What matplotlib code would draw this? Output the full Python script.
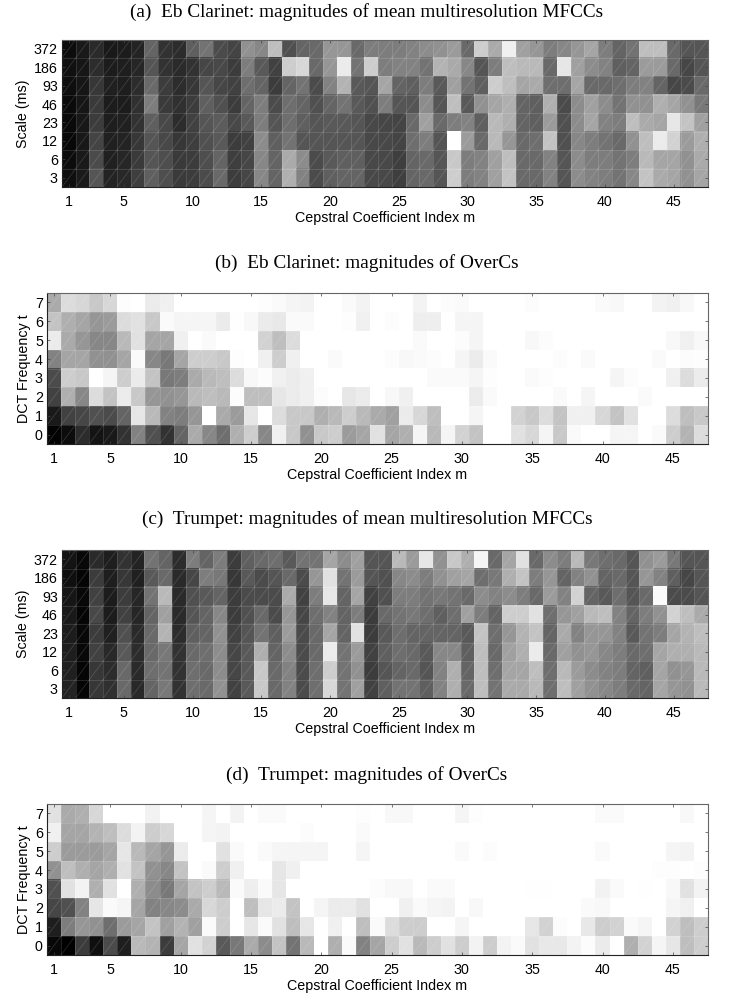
import numpy as np
import matplotlib
matplotlib.use("Agg")
import matplotlib.pyplot as plt

plt.rcParams['font.family'] = ['Liberation Sans', 'DejaVu Sans']

W, H = 733, 998

# grey levels per coefficient m = 1..47, each list goes from the top row to the bottom row
clarinet_mfcc = [
    [12,16,14,10,10,8,12,15], [25,22,22,22,24,24,26,26], [42,45,55,58,60,68,75,85], [25,28,32,28,30,32,32,35],
    [28,30,30,28,32,35,38,40], [35,38,45,48,50,55,58,62], [100,85,105,125,95,85,85,95], [50,50,60,58,72,72,78,78],
    [45,42,45,48,45,55,58,58], [95,50,55,60,65,62,60,60], [115,70,85,95,85,80,78,75], [75,72,70,80,92,90,100,105],
    [68,60,65,60,72,60,62,60], [145,125,110,100,90,65,70,70], [135,90,100,125,125,140,135,135], [190,65,60,75,85,95,100,100],
    [80,205,100,110,110,115,170,175], [100,215,115,100,95,85,140,130], [105,105,75,80,85,85,75,75], [150,150,130,100,90,85,90,95],
    [150,235,180,115,90,85,95,100], [105,115,90,90,85,85,95,100], [125,205,85,80,72,72,72,72], [125,125,165,125,70,72,72,72],
    [125,130,100,85,68,68,62,62], [130,130,95,85,105,110,100,100], [140,115,125,140,160,125,105,105], [145,180,90,85,105,85,85,85],
    [155,170,160,190,125,255,200,205], [105,135,115,90,130,155,125,125], [205,85,95,145,95,105,130,130], [170,125,205,165,185,185,160,160],
    [240,190,190,175,175,150,190,195], [160,185,165,100,100,105,105,105], [150,185,170,95,95,110,105,105], [125,105,110,175,155,195,130,130],
    [135,230,110,75,80,80,85,85], [150,160,165,140,140,135,140,140], [165,140,105,160,165,125,125,130], [125,130,105,140,130,115,125,125],
    [100,95,110,115,125,105,115,115], [115,100,125,145,190,145,125,135], [190,155,130,145,170,190,185,195], [190,155,100,175,165,235,165,170],
    [105,105,70,165,230,210,165,165], [85,70,75,145,195,155,145,145], [85,85,105,120,160,175,170,165],
]

clarinet_overc = [
    [170,195,235,130,75,65,25,3], [220,175,170,165,205,175,65,12], [215,165,150,165,200,135,70,45], [200,150,135,145,255,220,80,20],
    [215,155,135,145,245,195,75,25], [253,220,185,165,205,235,100,50], [255,225,225,250,235,200,230,130], [235,200,165,135,195,150,185,80],
    [240,250,165,120,120,145,130,50], [255,245,240,165,125,150,125,100], [255,245,255,205,170,185,150,170], [255,245,250,205,185,190,255,135],
    [255,235,255,200,190,185,170,110], [255,254,255,253,220,252,155,175], [255,248,255,255,248,190,230,205], [253,235,210,240,252,190,255,135],
    [250,232,190,205,240,230,220,240], [245,250,220,240,235,235,200,200], [243,250,255,255,240,240,200,145], [255,255,255,255,255,252,175,200],
    [255,255,255,250,255,255,185,205], [250,253,255,255,255,230,205,155], [243,240,255,255,255,235,185,165], [255,255,255,255,255,255,170,225],
    [255,252,255,252,255,248,160,165], [255,255,255,248,255,240,235,175], [243,238,250,250,255,255,215,245], [255,238,255,252,250,255,190,185],
    [252,255,255,255,250,255,255,245], [250,245,252,245,250,255,255,210], [255,245,245,235,245,235,245,195], [255,255,255,250,253,250,255,255],
    [255,255,255,255,255,255,255,255], [255,255,255,255,255,255,210,225], [252,255,248,255,250,255,200,215], [255,255,252,255,253,255,220,245],
    [255,255,255,252,255,250,195,200], [255,255,255,255,255,255,240,250], [255,255,255,250,255,245,240,255], [250,255,255,255,255,255,215,255],
    [248,255,255,255,245,255,195,245], [255,255,255,255,252,255,225,245], [255,255,255,255,255,250,255,255], [243,255,255,250,255,255,255,250],
    [240,255,248,255,240,255,220,205], [248,255,240,252,220,255,190,180], [255,255,248,253,235,255,200,220],
]

trumpet_mfcc = [
    [20,15,22,25,28,30,32,35], [8,5,8,5,8,8,5,5], [42,60,65,72,60,65,55,55], [30,30,28,28,32,40,45,48],
    [50,55,60,65,80,90,105,105], [35,32,38,38,42,45,42,40], [115,90,115,100,105,105,110,100], [100,105,185,160,180,120,115,120],
    [45,42,42,42,45,50,50,50], [125,70,80,85,95,105,110,110], [100,125,90,100,100,110,105,105], [125,120,100,135,145,140,140,145],
    [60,55,60,60,65,70,70,65], [95,90,75,80,85,90,90,90], [105,75,75,105,115,175,200,200], [110,85,75,75,95,100,105,105],
    [90,105,170,150,155,140,130,130], [115,75,65,70,75,75,75,75], [115,150,125,110,105,105,110,110], [165,225,230,130,165,235,205,215],
    [140,115,100,100,100,115,115,115], [160,155,165,125,225,155,145,160], [85,85,65,60,60,65,60,65], [85,80,80,105,90,95,85,95],
    [185,135,125,115,110,110,100,115], [155,140,125,120,100,105,105,115], [230,125,115,110,100,90,85,95], [145,145,120,95,100,135,130,130],
    [200,160,115,110,100,135,175,175], [175,165,105,160,90,95,100,105], [245,110,140,125,195,190,190,190], [105,120,130,100,110,105,110,115],
    [165,175,140,205,150,160,165,170], [225,195,125,205,180,175,165,170], [105,125,105,225,195,235,190,185], [140,150,155,110,100,105,110,110],
    [125,100,130,150,170,160,185,190], [185,130,210,160,130,145,155,160], [120,145,100,185,150,150,140,145], [110,100,90,190,150,135,130,135],
    [105,105,110,130,130,125,125,125], [85,85,85,100,90,105,100,105], [145,150,105,125,115,110,95,100], [155,130,250,145,125,165,165,165],
    [120,95,75,210,165,175,145,150], [85,70,75,190,180,175,150,145], [85,85,85,170,190,185,185,185],
]

trumpet_overc = [
    [225,240,205,145,80,70,30,8], [170,165,155,190,225,80,125,0], [175,165,155,175,243,130,150,60], [215,180,155,165,175,230,145,15],
    [255,190,165,175,225,250,110,75], [255,220,230,225,255,245,155,30], [255,243,185,195,175,165,165,185], [242,205,165,145,140,130,195,180],
    [255,215,150,135,120,135,160,60], [255,255,235,195,165,140,180,165], [255,255,255,255,195,170,160,225], [245,245,255,250,205,215,250,210],
    [255,243,225,205,185,205,205,90], [243,255,250,240,250,255,255,120], [255,255,255,255,238,190,230,170], [250,255,250,255,250,230,250,140],
    [250,255,245,230,230,235,225,195], [255,255,245,240,255,195,190,115], [255,252,245,255,255,255,230,185], [255,255,245,255,255,245,255,255],
    [255,255,255,255,255,235,240,175], [255,255,255,255,255,235,255,250], [253,250,245,255,255,225,190,130], [255,255,255,255,252,255,250,165],
    [248,255,255,255,248,255,220,205], [248,255,255,255,248,240,205,225], [255,255,255,255,255,250,205,185], [255,255,255,255,250,245,255,205],
    [255,255,255,255,250,243,255,225], [245,255,250,255,255,255,245,205], [253,255,255,255,255,248,255,243], [255,255,252,255,255,255,255,205],
    [255,255,255,255,255,255,255,243], [255,255,255,255,255,255,255,250], [255,255,255,255,254,255,230,225], [255,255,255,255,254,255,210,232],
    [255,255,255,255,255,255,252,232], [255,255,255,255,255,255,255,243], [255,255,255,255,255,250,232,252], [250,255,250,255,242,248,205,235],
    [250,255,255,255,250,255,210,255], [255,255,255,255,255,255,250,175], [255,255,255,255,254,255,245,210], [255,255,255,253,255,255,255,245],
    [255,255,245,253,248,245,210,230], [248,255,243,255,225,240,190,190], [255,255,255,253,243,255,205,205],
]

x_ticks = [1, 5, 10, 15, 20, 25, 30, 35, 40, 45]
scale_labels = ['372', '186', '93', '46', '23', '12', '6', '3']
dct_labels = ['7', '6', '5', '4', '3', '2', '1', '0']

titles = [
    '(a)  Eb Clarinet: magnitudes of mean multiresolution MFCCs',
    '(b)  Eb Clarinet: magnitudes of OverCs',
    '(c)  Trumpet: magnitudes of mean multiresolution MFCCs',
    '(d)  Trumpet: magnitudes of OverCs',
]
panels = [clarinet_mfcc, clarinet_overc, trumpet_mfcc, trumpet_overc]
row_labels = [scale_labels, dct_labels, scale_labels, dct_labels]
y_labels = ['Scale (ms)', 'DCT Frequency t', 'Scale (ms)', 'DCT Frequency t']
# left, top, right, bottom in pixels
boxes = [(62, 39.5, 708, 187), (47, 293, 708, 444), (62, 550, 708, 698), (47, 804, 708, 955)]
title_y = [12, 263, 519, 775]

fig = plt.figure(figsize=(W / 100, H / 100), dpi=100)

for values, labels, ylab, box, title, ty in zip(panels, row_labels, y_labels, boxes, titles, title_y):
    l, t, r, b = box
    ax = fig.add_axes([l / W, 1 - b / H, (r - l) / W, (b - t) / H])
    grid = np.array(values).T
    ax.imshow(grid, cmap='gray', vmin=0, vmax=255, aspect='auto', interpolation='nearest',
              extent=(0.5, 47.5, 7.5, -0.5))

    # light seams of the mesh, edges and one diagonal per cell
    seam = dict(color='white', alpha=0.15, lw=0.6)
    for i in range(48):
        ax.plot([i + 0.5, i + 0.5], [-0.5, 7.5], **seam)
    for j in range(9):
        ax.plot([0.5, 47.5], [j - 0.5, j - 0.5], **seam)
    for i in range(47):
        for j in range(8):
            ax.plot([i + 0.5, i + 1.5], [j + 0.5, j - 0.5], **seam)

    ax.set_xlim(0.5, 47.5)
    ax.set_ylim(7.5, -0.5)
    ax.set_xticks(x_ticks)
    ax.set_yticks(range(8))
    ax.set_yticklabels(labels)
    ax.tick_params(direction='in', length=2, width=0.5, labelsize=10.3, color='#444444',
                   top=True, right=True)
    ax.tick_params(axis='x', pad=6)
    ax.tick_params(axis='y', pad=3)
    for name, s in ax.spines.items():
        s.set_linewidth(0.8)
        s.set_color('#222222' if name in ('left', 'bottom') else '#666666')
    ax.set_xlabel('Cepstral Coefficient Index m', fontsize=10.3, labelpad=1)
    ax.set_ylabel(ylab, fontsize=10.3, labelpad=3)
    fig.text(367 / W, 1 - ty / H, title, ha='center', va='center', fontsize=13.9, family='Liberation Serif')

fig.savefig('out.png', dpi=100)
